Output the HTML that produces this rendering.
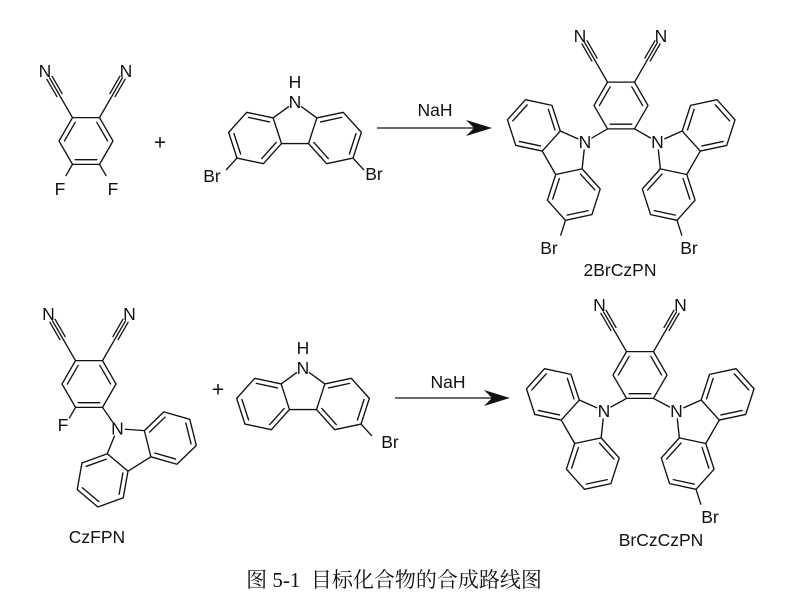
<!DOCTYPE html>
<html><head><meta charset="utf-8"><style>
html,body{margin:0;padding:0;background:#fff;}
svg{display:block;}
text{font-family:"Liberation Sans",sans-serif;font-size:17.5px;fill:#111;}
</style></head><body>
<svg width="789" height="610" viewBox="0 0 789 610" xmlns="http://www.w3.org/2000/svg" xmlns:xlink="http://www.w3.org/1999/xlink">
<defs>
<g id="cz">
<polygon points="-21,15.3 -46.4,9.9 -63.8,29.2 -55.8,53.9 -30.4,59.3 -13,40"/>
<polygon points="21,15.3 46.4,9.9 63.8,29.2 55.8,53.9 30.4,59.3 13,40"/>
<line x1="-24.5" y1="19.2" x2="-44.8" y2="14.8"/>
<line x1="-58.7" y1="30.3" x2="-52.3" y2="50"/>
<line x1="-32" y1="54.4" x2="-18.1" y2="38.9"/>
<line x1="24.5" y1="19.2" x2="44.8" y2="14.8"/>
<line x1="58.7" y1="30.3" x2="52.3" y2="50"/>
<line x1="32" y1="54.4" x2="18.1" y2="38.9"/>
<line x1="-13" y1="40" x2="13" y2="40"/>
<line x1="-6.2" y1="4.5" x2="-21" y2="15.3"/>
<line x1="6.2" y1="4.5" x2="21" y2="15.3"/>
</g>
<line id="brL" x1="-55.8" y1="53.9" x2="-65.9" y2="65"/>
<line id="brR" x1="55.8" y1="53.9" x2="65.9" y2="65"/>
<g id="bz">
<polygon points="-13.5,-23.38 13.5,-23.38 27,0 13.5,23.38 -13.5,23.38 -27,0"/>
<line x1="-21.6" y1="0" x2="-10.8" y2="-18.7"/>
<line x1="10.8" y1="-18.7" x2="21.6" y2="0"/>
<line x1="10.8" y1="18.7" x2="-10.8" y2="18.7"/>
<line x1="-13.5" y1="-23.38" x2="-36.5" y2="-63.2"/>
<line x1="-23.9" y1="-47.4" x2="-33.9" y2="-64.7"/>
<line x1="-29.1" y1="-44.4" x2="-39.1" y2="-61.7"/>
<line x1="13.5" y1="-23.38" x2="36.5" y2="-63.2"/>
<line x1="23.9" y1="-47.4" x2="33.9" y2="-64.7"/>
<line x1="29.1" y1="-44.4" x2="39.1" y2="-61.7"/>
</g>
</defs>
<g stroke="#111" stroke-width="1.3" fill="none" stroke-linecap="round" stroke-linejoin="round">
<g transform="translate(86,141)"><use xlink:href="#bz" href="#bz"/>
<line x1="-13.5" y1="23.38" x2="-20" y2="34.6"/><line x1="13.5" y1="23.38" x2="20" y2="34.6"/></g>
<g transform="translate(295,102) scale(1.04)"><use xlink:href="#cz" href="#cz"/><use xlink:href="#brL" href="#brL"/><use xlink:href="#brR" href="#brR"/></g>
<g transform="translate(621,105.5)"><use xlink:href="#bz" href="#bz"/></g>
<line x1="607.5" y1="128.9" x2="591.9" y2="138"/>
<line x1="634.5" y1="128.9" x2="650.6" y2="138"/>
<g transform="translate(585,142) rotate(60) scale(1.04)"><use xlink:href="#cz" href="#cz"/><use xlink:href="#brR" href="#brR"/></g>
<g transform="translate(657.5,142) rotate(-60) scale(1.04)"><use xlink:href="#cz" href="#cz"/><use xlink:href="#brL" href="#brL"/></g>
<g transform="translate(89,384)"><use xlink:href="#bz" href="#bz"/></g>
<line x1="75.5" y1="407.4" x2="69.5" y2="417.8"/>
<line x1="102.5" y1="407.4" x2="112.8" y2="422.2"/>
<g transform="translate(117.4,428.7) rotate(-32) scale(1.04)"><use xlink:href="#cz" href="#cz"/></g>
<g transform="translate(303,368) scale(1.04)"><use xlink:href="#cz" href="#cz"/><use xlink:href="#brR" href="#brR"/></g>
<g transform="translate(640,375)"><use xlink:href="#bz" href="#bz"/></g>
<line x1="626.5" y1="398.4" x2="610.9" y2="407"/>
<line x1="653.5" y1="398.4" x2="669.6" y2="407"/>
<g transform="translate(604,411) rotate(60) scale(1.04)"><use xlink:href="#cz" href="#cz"/></g>
<g transform="translate(676.5,411) rotate(-60) scale(1.04)"><use xlink:href="#cz" href="#cz"/><use xlink:href="#brL" href="#brL"/></g>
</g>
<g>
<line x1="377" y1="128" x2="478" y2="128" stroke="#111" stroke-width="1.3"/>
<polygon points="492,128 466,120 474,128 466,136" fill="#111"/>
<line x1="395" y1="398" x2="496" y2="398" stroke="#111" stroke-width="1.3"/>
<polygon points="510,398 484,390 492,398 484,406" fill="#111"/>
</g>
<g text-anchor="middle" dominant-baseline="central">
<text x="435" y="110">NaH</text>
<text x="448" y="382">NaH</text>
<text x="160" y="143" style="font-size:21px">+</text>
<text x="218" y="390" style="font-size:21px">+</text>
<text x="45" y="71">N</text><text x="126" y="71">N</text>
<text x="60" y="189">F</text><text x="113" y="189">F</text>
<text x="295" y="102">N</text><text x="295" y="82">H</text>
<text x="212" y="176">Br</text><text x="374" y="174">Br</text>
<text x="580" y="36">N</text><text x="661" y="36">N</text>
<text x="585" y="142">N</text><text x="657.5" y="142">N</text>
<text x="549" y="248">Br</text><text x="689" y="248">Br</text>
<text x="620" y="270">2BrCzPN</text>
<text x="48.5" y="314">N</text><text x="129.5" y="314">N</text>
<text x="63" y="425">F</text>
<text x="117.4" y="428.7">N</text>
<text x="97" y="537">CzFPN</text>
<text x="303" y="368">N</text><text x="303" y="348">H</text>
<text x="390" y="442">Br</text>
<text x="599.5" y="305">N</text><text x="680.5" y="305">N</text>
<text x="604" y="411">N</text><text x="676.5" y="411">N</text>
<text x="710" y="517">Br</text>
<text x="661" y="540">BrCzCzPN</text>
<text x="394" y="580" style="font-family:'Liberation Serif','Noto Serif CJK SC',serif;font-size:21px" xml:space="preserve">图 5-1  目标化合物的合成路线图</text>
</g>
</svg>
</body></html>
